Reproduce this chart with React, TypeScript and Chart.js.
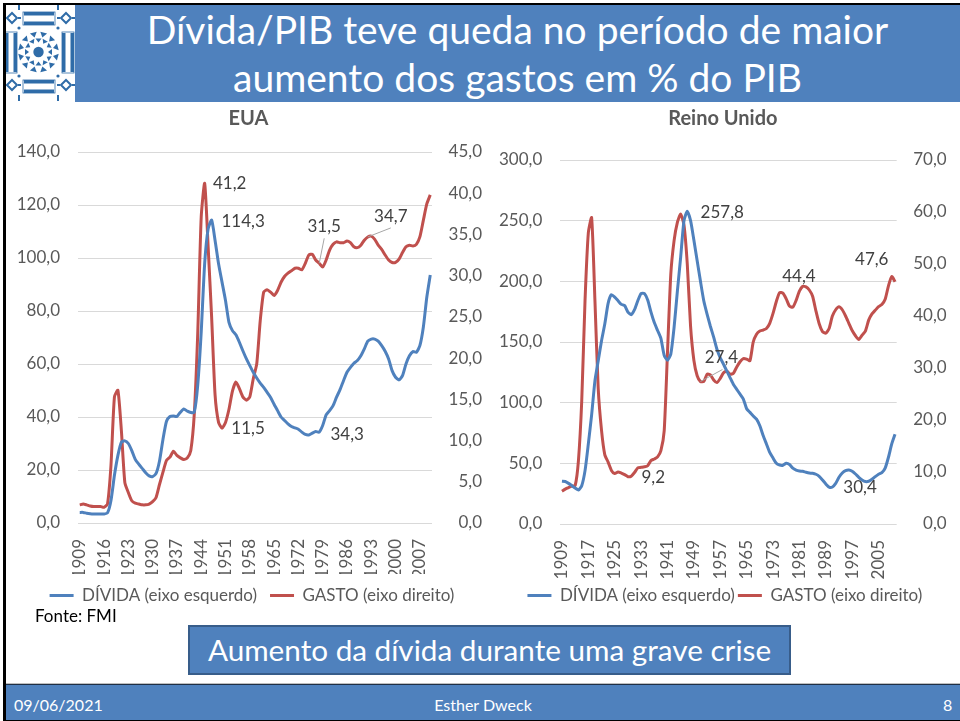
import React, { useEffect, useRef } from "react";
import { Chart, registerables } from "chart.js";

Chart.register(...registerables);

const FONT = "Lato";
const BLUE = "#4F81BD";
const RED = "#C0504D";
const TEXT = "#595959";
const LABEL = "#404040";
const GRID = "#D9D9D9";

const years: string[] = [];
for (let y = 1909; y <= 2010; y++) years.push(String(y));

const usaDebt = [
  4, 4, 3.7, 3.5, 3.4, 3.4, 3.4, 3.4, 3.8, 8.5, 18, 25.5, 30.5, 31, 30, 27.3, 24, 22.2, 20.6, 19, 17.8, 17.5, 18.7, 23.5,
  31.7, 38.4, 40.2, 40.4, 40.2, 41.8, 43, 42.2, 41.7, 41.8, 52, 72, 98, 111, 114.3, 106.6, 97.8, 90.9, 84, 75.7, 72.6, 71,
  68.2, 65, 62, 59.4, 56.9, 54.7, 52.8, 51.2, 49.3, 47.4, 44.8, 42.4, 40, 38.7, 37.4, 36.4, 35.9, 35.4, 34.3, 33.4, 33.2,
  33.9, 34.5, 34.3, 36.8, 40.8, 42.4, 44.3, 47.5, 50.3, 53.7, 56.9, 58.7, 60.3, 61.3, 63.1, 65.7, 68.6, 69.4, 69.4, 68.6,
  66.9, 64.8, 61.9, 57.5, 55, 54, 55.6, 60, 63.1, 64.7, 64.4, 66.9, 73.9, 85.2, 93.6,
];
const usaSpend = [
  2.2, 2.3, 2.2, 2.07, 2, 2, 2, 1.9, 2.3, 7, 15.3, 16.1, 11.2, 4.9, 3.7, 2.7, 2.4, 2.3, 2.2, 2.2, 2.3, 2.6, 3.1, 4.7, 6.2,
  7.6, 8, 8.7, 8.2, 7.9, 7.7, 7.9, 8.8, 13.2, 23, 37.1, 41.2, 33.5, 25, 15.5, 12.2, 11.5, 12.2, 13.8, 16, 17.1, 16.3, 15.3,
  14.9, 15.3, 17.5, 19.3, 24.5, 28, 28.3, 28, 27.6, 28.2, 29.2, 29.9, 30.3, 30.6, 30.9, 30.9, 30.7, 31.5, 32.5, 32.6, 31.9,
  31.5, 31.05, 31.9, 33.1, 33.8, 34.1, 34, 34, 34.2, 34, 33.5, 33.4, 33.7, 34.3, 34.7, 34.8, 34.4, 33.7, 33.2, 32.5, 31.9,
  31.6, 31.6, 32, 32.8, 33.5, 33.7, 33.6, 33.8, 34.7, 36.7, 38.7, 39.8,
];
const ukDebt = [
  35.2, 35, 33.5, 31.6, 29.7, 28, 31.6, 44, 66, 90, 118, 134.5, 151, 165, 181.8, 189, 187, 184, 181, 180, 174.7, 172.5,
  176.6, 184, 190, 190, 184.6, 174.6, 166, 159.5, 153, 139, 135, 140, 162, 192, 220, 250, 257.8, 250, 234, 217, 200, 184,
  173, 163, 154, 144, 137, 131.6, 126, 120.5, 115, 111, 107, 103, 95, 92, 89, 86.5, 81, 73, 66, 59, 54.4, 50, 48.6, 48.4,
  50, 49, 46, 44.5, 43.7, 43.4, 42.6, 42, 41.8, 41, 39.3, 36.3, 33, 30.4, 30.5, 33.5, 38.5, 42, 44, 44.5, 43.4, 41.2, 38.5,
  36.3, 35, 35.2, 36.8, 39, 41, 42.3, 46, 55, 66, 74,
];
const ukSpend = [
  6.3, 6.7, 7, 7.3, 7.4, 12.2, 23.7, 43, 56, 58.9, 43, 26, 18, 13.3, 11.9, 10.3, 9.7, 10, 9.8, 9.5, 9.1, 9.2, 9.9, 10.8,
  10.9, 11, 11.2, 12.2, 12.5, 12.9, 14.1, 17.9, 33, 48, 54.5, 58, 59.6, 57.5, 50, 38, 31.5, 28.5, 27.4, 27.4, 28.8, 28.7,
  27.7, 27.2, 28, 29.1, 29.4, 28.8, 29, 30.2, 31.2, 31.8, 31.7, 31.4, 35, 36.5, 37.1, 37.3, 37.6, 38.6, 40.5, 42.8, 44.5,
  44.4, 43.3, 41.9, 41.7, 43, 44.8, 45.7, 45.6, 45, 43.8, 41, 38.5, 37, 36.7, 37.6, 40, 41.2, 41.8, 41.2, 40, 38.6, 37.2,
  36.2, 35.5, 36.3, 37.1, 39.2, 40.4, 41.1, 41.8, 42.2, 43.2, 45.8, 47.6, 46.6,
];

const debtLegend = "DÍVIDA (eixo esquerdo)";
const spendLegend = "GASTO (eixo direito)";

const fmt = (v: number) => v.toFixed(1).replace(".", ",");

type Note = { ds: number; i: number; dx: number; dy: number; leader?: [number, number] };

const usaNotes: Note[] = [
  { ds: 1, i: 36, dx: 25, dy: 0 },
  { ds: 0, i: 38, dx: 31.5, dy: 1 },
  { ds: 1, i: 69, dx: 5, dy: -37, leader: [5, -25] },
  { ds: 1, i: 83, dx: 23, dy: -20, leader: [23, -9] },
  { ds: 1, i: 41, dx: 26, dy: 0 },
  { ds: 0, i: 69, dx: 28, dy: 2 },
];
const ukNotes: Note[] = [
  { ds: 0, i: 38, dx: 35, dy: 1 },
  { ds: 1, i: 42, dx: 21, dy: -24, leader: [22, -12] },
  { ds: 1, i: 67, dx: 16, dy: -17 },
  { ds: 1, i: 100, dx: -20, dy: -17 },
  { ds: 1, i: 21, dx: 22, dy: 1 },
  { ds: 0, i: 81, dx: 31, dy: 0 },
];

type PanelProps = {
  title: string;
  debt: number[];
  spend: number[];
  leftMax: number;
  leftStep: number;
  rightMax: number;
  rightStep: number;
  labelEvery: number;
  notes: Note[];
  left: number;
  width: number;
  padLeft: number;
  padRight: number;
  padBottom: number;
  leftAxisWidth: number;
  rightAxisWidth: number;
  titleGap: number;
  xAxisHeight: number;
  legendGap: number;
  legendShift: number;
};

function Panel(p: PanelProps) {
  const ref = useRef<HTMLCanvasElement | null>(null);
  useEffect(() => {
    if (!ref.current) return;
    const legendShiftPlugin = {
      id: "legendShift",
      afterLayout(chart: any) {
        chart.legend.left += p.legendShift;
        chart.legend.right += p.legendShift;
      },
    };
    const notesPlugin = {
      id: "notes",
      afterDatasetsDraw(chart: any) {
        const { ctx } = chart;
        ctx.save();
        ctx.font = `17px ${FONT}`;
        ctx.fillStyle = LABEL;
        ctx.textAlign = "center";
        ctx.textBaseline = "middle";
        p.notes.forEach((n) => {
          const pt = chart.getDatasetMeta(n.ds).data[n.i];
          const value = (n.ds === 0 ? p.debt : p.spend)[n.i];
          if (n.leader) {
            ctx.strokeStyle = "#A6A6A6";
            ctx.lineWidth = 1;
            ctx.beginPath();
            ctx.moveTo(pt.x, pt.y);
            ctx.lineTo(pt.x + n.leader[0], pt.y + n.leader[1]);
            ctx.stroke();
          }
          ctx.fillText(fmt(value), pt.x + n.dx, pt.y + n.dy);
        });
        ctx.restore();
      },
    };
    const chart = new Chart(ref.current, {
      type: "line",
      data: {
        labels: years,
        datasets: [
          { label: debtLegend, data: p.debt, borderColor: BLUE, backgroundColor: BLUE, yAxisID: "y", borderWidth: 3, pointRadius: 0, tension: 0.2 },
          { label: spendLegend, data: p.spend, borderColor: RED, backgroundColor: RED, yAxisID: "y1", borderWidth: 3, pointRadius: 0, tension: 0.2 },
        ],
      },
      options: {
        animation: false,
        responsive: false,
        layout: { padding: { left: p.padLeft, right: p.padRight, top: 3, bottom: p.padBottom } },
        plugins: {
          title: { display: true, text: p.title, color: TEXT, font: { family: FONT, size: 20, weight: "bold" }, padding: { top: 0, bottom: p.titleGap } },
          legend: {
            position: "bottom",
            labels: {
              color: TEXT,
              font: { family: FONT, size: 17 },
              usePointStyle: true,
              pointStyle: "line",
              pointStyleWidth: 24,
              padding: p.legendGap,
            },
          },
          tooltip: { enabled: false },
        },
        scales: {
          x: {
            offset: true,
            grid: { display: false },
            border: { display: false },
            afterFit: (s: any) => { s.height = p.xAxisHeight; },
            ticks: {
              autoSkip: false,
              maxRotation: 90,
              minRotation: 90,
              padding: 8,
              color: TEXT,
              font: { family: FONT, size: 17 },
              callback: (_v: any, i: number) => (i % p.labelEvery === 0 ? years[i] : ""),
            },
          },
          y: {
            position: "left",
            min: 0,
            max: p.leftMax,
            grid: { color: GRID, lineWidth: 1, drawTicks: false },
            border: { display: false },
            afterFit: (s: any) => { s.width = p.leftAxisWidth; },
            ticks: { stepSize: p.leftStep, padding: 18, color: TEXT, font: { family: FONT, size: 17 }, callback: (v: any) => fmt(Number(v)) },
          },
          y1: {
            position: "right",
            min: 0,
            max: p.rightMax,
            grid: { display: false },
            border: { display: false },
            afterFit: (s: any) => { s.width = p.rightAxisWidth; },
            ticks: { stepSize: p.rightStep, crossAlign: "far", color: TEXT, font: { family: FONT, size: 17 }, callback: (v: any) => fmt(Number(v)) },
          },
        },
      } as any,
      plugins: [legendShiftPlugin, notesPlugin],
    } as any);
    return () => chart.destroy();
  }, []);
  return <canvas ref={ref} width={p.width} height={520} style={{ position: "absolute", left: p.left, top: 104, width: p.width, height: 520 }} />;
}

function Logo() {
  const c = "#2F6CA8";
  const ring: number[] = [];
  for (let a = 0; a < 12; a++) ring.push(a * 30);
  const hBar = (y: number) => (
    <g key={"h" + y}>
      <rect x={23} y={y} width={32} height={13} fill="none" stroke={c} strokeWidth={0.8} />
      <rect x={24} y={y} width={30} height={3.5} fill={c} />
      <rect x={24} y={y + 9.5} width={30} height={3.5} fill={c} />
    </g>
  );
  const vBar = (x: number) => (
    <g key={"v" + x}>
      <rect x={x} y={32} width={12} height={41} fill="none" stroke={c} strokeWidth={0.8} />
      <rect x={x} y={33} width={3.5} height={39} fill={c} />
      <rect x={x + 8.5} y={33} width={3.5} height={39} fill={c} />
    </g>
  );
  const corner = (x: number, y: number) => (
    <g key={"c" + x + y}>
      <path d={`M${x - 5} ${y}L${x} ${y - 5}L${x + 5} ${y}L${x} ${y + 5}Z`} fill="none" stroke={c} strokeWidth={2} />
      <rect x={x - 9} y={y - 1} width={3} height={2} fill={c} />
      <rect x={x + 6} y={y - 1} width={3} height={2} fill={c} />
    </g>
  );
  return (
    <svg width={69} height={97} viewBox="6 5 69 97" style={{ position: "absolute", left: 6, top: 5, background: "#fff" }}>
      {hBar(12)}
      {hBar(80)}
      {vBar(5)}
      {vBar(62)}
      {corner(12, 18)}
      {corner(66, 18)}
      {corner(12, 85)}
      {corner(66, 85)}
      {[19, 58].map((x) => (
        <g key={"t" + x}>
          <rect x={x - 1} y={5} width={2} height={5} fill={c} />
          <circle cx={x} cy={28} r={1.6} fill={c} />
          <circle cx={x} cy={76} r={1.6} fill={c} />
          <rect x={x - 1} y={95} width={2} height={6} fill={c} />
        </g>
      ))}
      <circle cx={38.5} cy={52} r={5.2} fill={c} />
      {ring.map((a) => (
        <g key={a} transform={`rotate(${a} 38.5 52)`}>
          <path d="M38.5 42.5 L35.5 38.5 L41.5 38.5 Z" fill={c} />
          <path d="M38.5 37 L35 32 L42 32 Z" fill={c} transform={`rotate(15 38.5 52)`} />
        </g>
      ))}
    </svg>
  );
}

const abs = (l: number, t: number, w: number, h: number): React.CSSProperties => ({ position: "absolute", left: l, top: t, width: w, height: h });

export default function App() {
  return (
    <div style={{ ...abs(0, 0, 960, 721), overflow: "hidden", background: "#fff", fontFamily: FONT }}>
      <div style={{ ...abs(3, 3, 957, 2), background: "#000" }} />
      <div style={{ ...abs(3, 3, 3, 718), background: "#000" }} />
      <Logo />
      <div style={{ ...abs(75, 5, 885, 97), background: BLUE, color: "#fff", fontSize: 39, lineHeight: "48px", textAlign: "center" }}>
        <div style={{ position: "absolute", left: 0, right: 0, top: 0 }}>
          Dívida/PIB teve queda no período de maior
          <br />
          aumento dos gastos em % do PIB
        </div>
      </div>
      <Panel title="EUA" debt={usaDebt} spend={usaSpend} leftMax={140} leftStep={20} rightMax={45} rightStep={5} labelEvery={7} notes={usaNotes}
        left={0} width={490} padLeft={15} padRight={8} padBottom={10} leftAxisWidth={63} rightAxisWidth={50} titleGap={21} xAxisHeight={51} legendGap={13} legendShift={3.5} />
      <Panel title="Reino Unido" debt={ukDebt} spend={ukSpend} leftMax={300} leftStep={50} rightMax={70} rightStep={10} labelEvery={8} notes={ukNotes}
        left={490} width={470} padLeft={9} padRight={13.3} padBottom={10} leftAxisWidth={61.3} rightAxisWidth={50} titleGap={29} xAxisHeight={60} legendGap={3} legendShift={2} />
      <div style={{ ...abs(35, 606, 120, 20), color: "#000", fontSize: 17, lineHeight: "20px" }}>Fonte: FMI</div>
      <div style={{ ...abs(188, 625, 603, 50), boxSizing: "border-box", background: BLUE, border: "2px solid #385D8A", color: "#fff", fontSize: 29.7, lineHeight: "46px", textAlign: "center" }}>
        Aumento da dívida durante uma grave crise
      </div>
      <div style={{ ...abs(6, 683, 954, 1), background: "#BFBFBF" }} />
      <div style={{ ...abs(6, 684, 954, 37), boxSizing: "border-box", background: BLUE, borderTop: "1px solid #1F2F45", borderBottom: "1px solid #000", color: "#fff", fontSize: 16 }}>
        <span style={{ position: "absolute", left: 8, top: 10 }}>09/06/2021</span>
        <span style={{ position: "absolute", left: 327, width: 300, textAlign: "center", top: 10 }}>Esther Dweck</span>
        <span style={{ position: "absolute", left: 937, top: 10 }}>8</span>
      </div>
    </div>
  );
}
